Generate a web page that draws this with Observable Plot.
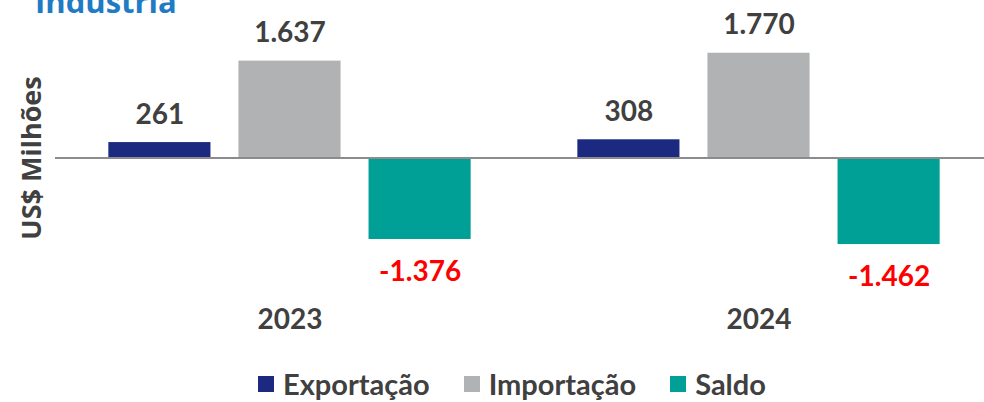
<!DOCTYPE html>
<html>
<head>
<meta charset="utf-8">
<script src="https://cdn.jsdelivr.net/npm/d3@7"></script>
<script src="https://cdn.jsdelivr.net/npm/@observablehq/plot@0.6"></script>
<style>
  html, body { margin: 0; padding: 0; background: #fff; }
  body { width: 984px; height: 402px; overflow: hidden; position: relative; font-family: Lato, sans-serif; }
  #title { position: absolute; left: 35px; top: -20px; font-family: "Open Sans", sans-serif; font-weight: 700; font-size: 31px; color: #1F7BC4; white-space: nowrap; }
  #ylab { position: absolute; left: 30px; top: 158px; transform: translate(-50%, -50%) rotate(-90deg); font-family: "Open Sans", sans-serif; font-weight: 700; font-size: 27px; color: #404040; white-space: nowrap; }
  #chart { position: absolute; left: 0; top: 0; width: 984px; height: 345px; overflow: hidden; }
  #chart svg { max-width: none !important; }
  #legend { position: absolute; left: 258px; top: 366px; display: flex; align-items: center; font-family: Lato, sans-serif; font-weight: 700; font-size: 29px; color: #404040; }
  .item { display: flex; align-items: center; margin-right: 34px; }
  .sw { width: 16px; height: 16px; margin-right: 9px; }
</style>
</head>
<body>
<div id="chart"></div>
<div id="title">Indústria</div>
<div id="ylab">US$ Milhões</div>
<div id="legend"></div>
<script>
const years = ["2023", "2024"];
const series = ["Exportação", "Importação", "Saldo"];
const colors = ["#1B2A80", "#B1B2B4", "#00A096"];
const exportacao = [261, 308];
const importacao = [1637, 1770];
const saldo = [-1376, -1462];

const data = [];
years.forEach((y, i) => {
  data.push({year: y, series: series[0], value: exportacao[i]});
  data.push({year: y, series: series[1], value: importacao[i]});
  data.push({year: y, series: series[2], value: saldo[i]});
});

const fmt = v => d3.format(",d")(v).replace(/,/g, ".").replace("−", "-");

const chart = Plot.plot({
  width: 993,
  height: 345,
  marginLeft: 55,
  marginRight: 0,
  marginTop: 20,
  marginBottom: 65,
  style: {fontFamily: "Lato, sans-serif", background: "#fff", maxWidth: "none"},
  fx: {domain: years, paddingInner: 0, paddingOuter: 0, round: false, label: null},
  x: {domain: series, paddingInner: 0.215, paddingOuter: 0.41, round: false, axis: null},
  y: {domain: [-2069, 2323], axis: null},
  color: {domain: series, range: colors},
  marks: [
    Plot.axisFx({anchor: "bottom", tickSize: 0, tickPadding: 29, fontSize: 28, fontWeight: 700, fill: "#404040", label: null}),
    Plot.barY(data, {fx: "year", x: "series", y: "value", fill: "series", insetLeft: 0, insetRight: 0}),
    Plot.ruleY([0], {stroke: "#8C8C8C", strokeWidth: 2}),
    Plot.text(data.filter(d => d.value >= 0), {fx: "year", x: "series", y: "value", text: d => fmt(d.value), lineAnchor: "bottom", dy: -19, fontSize: 28, fontWeight: 700, fill: "#404040"}),
    Plot.text(data.filter(d => d.value < 0), {fx: "year", x: "series", y: "value", text: d => fmt(d.value), lineAnchor: "top", dy: 22, fontSize: 28, fontWeight: 700, fill: "#FF0000"})
  ]
});
document.getElementById("chart").appendChild(chart);

const legend = document.getElementById("legend");
series.forEach((s, i) => {
  const it = document.createElement("div");
  it.className = "item";
  const sw = document.createElement("div");
  sw.className = "sw";
  sw.style.background = colors[i];
  const t = document.createElement("span");
  t.textContent = s;
  it.appendChild(sw);
  it.appendChild(t);
  legend.appendChild(it);
});
</script>
</body>
</html>
